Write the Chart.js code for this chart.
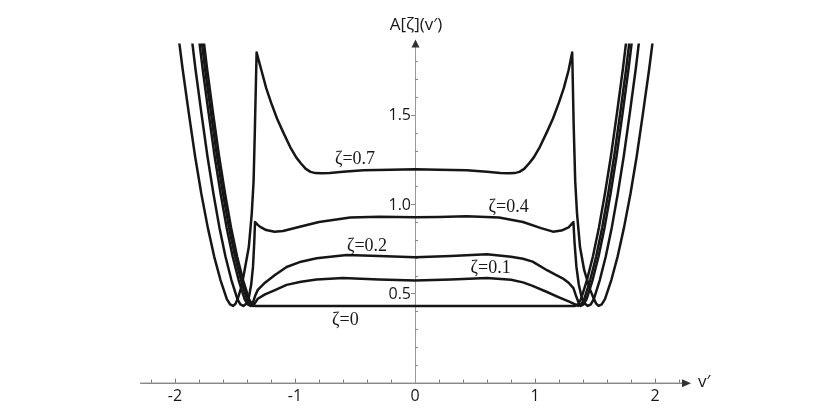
<!DOCTYPE html>
<html>
<head>
<meta charset="utf-8">
<script src="https://cdn.jsdelivr.net/npm/chart.js@4.4.0/dist/chart.umd.min.js"></script>
<style>
  html, body { margin: 0; padding: 0; background: #fff; }
  #wrap { width: 830px; height: 415px; }
</style>
</head>
<body>
<div id="wrap"><canvas id="plot" width="830" height="415"></canvas></div>
<script>
// curve names
const zetaNames = ['ζ=0', 'ζ=0.1', 'ζ=0.2', 'ζ=0.4', 'ζ=0.7'];

// values (v', A)
const z0X = [-1.783,-1.733,-1.683,-1.633,-1.583,-1.533,-1.483,-1.433,-1.383,-1.358,-1.333,
             1.333,1.358,1.383,1.433,1.483,1.533,1.583,1.633,1.683,1.733,1.783];
const z0Y = [2.04,1.76,1.51,1.27,1.06,0.87,0.708,0.575,0.468,0.439,0.43,
             0.43,0.439,0.468,0.575,0.708,0.87,1.06,1.27,1.51,1.76,2.04];

const z1X = [-1.80,-1.75,-1.70,-1.65,-1.60,-1.55,-1.50,-1.45,-1.40,-1.375,-1.35,
             -1.33,-1.31,-1.25,-1.167,-1.07,-0.95,-0.82,-0.6,-0.3,0,0.3,0.6,0.8,0.9,0.98,1.1,1.2,1.28,1.33,
             1.36,1.385,1.41,1.46,1.51,1.56,1.61,1.66,1.71,1.76,1.81];
const z1Y = [2.04,1.76,1.51,1.27,1.06,0.87,0.708,0.575,0.468,0.439,0.43,
             0.45,0.47,0.495,0.519,0.548,0.565,0.578,0.586,0.578,0.573,0.578,0.586,0.577,0.562,0.542,0.508,0.478,0.455,0.44,
             0.43,0.439,0.468,0.575,0.708,0.87,1.06,1.27,1.51,1.76,2.04];

const z2X = [-1.82,-1.77,-1.72,-1.67,-1.62,-1.57,-1.52,-1.47,-1.42,-1.395,-1.37,
             -1.35,-1.33,-1.31,-1.25,-1.167,-1.07,-0.95,-0.82,-0.57,-0.3,0,0.3,0.6,0.8,0.9,0.98,1.1,1.17,1.23,1.28,1.32,1.34,1.36,
             1.38,1.405,1.43,1.48,1.53,1.58,1.63,1.68,1.73,1.78,1.83];
const z2Y = [2.04,1.76,1.51,1.27,1.06,0.87,0.708,0.575,0.468,0.439,0.43,
             0.45,0.49,0.52,0.56,0.603,0.648,0.678,0.697,0.715,0.71,0.703,0.71,0.719,0.706,0.694,0.678,0.63,0.605,0.585,0.56,0.53,0.49,0.455,
             0.43,0.439,0.468,0.575,0.708,0.87,1.06,1.27,1.51,1.76,2.04];

const z4X = [-1.88,-1.83,-1.78,-1.73,-1.68,-1.63,-1.58,-1.53,-1.48,-1.455,-1.43,
             -1.405,-1.385,-1.365,-1.35,-1.34,-1.333,-1.31,-1.29,-1.24,-1.17,-1.1,-0.96,-0.8,-0.54,-0.3,0,0.2,0.43,0.7,0.9,1.05,1.15,1.22,1.28,1.32,
             1.33,1.345,1.365,1.39,1.415,
             1.44,1.465,1.49,1.54,1.59,1.64,1.69,1.74,1.79,1.84,1.89];
const z4Y = [2.04,1.76,1.51,1.27,1.06,0.87,0.708,0.575,0.468,0.439,0.43,
             0.443,0.475,0.55,0.65,0.78,0.90,0.884,0.873,0.855,0.846,0.85,0.874,0.9,0.925,0.93,0.927,0.928,0.932,0.925,0.9,0.866,0.846,0.852,0.87,0.90,
             0.78,0.65,0.55,0.475,0.443,
             0.43,0.439,0.468,0.575,0.708,0.87,1.06,1.27,1.51,1.76,2.04];

const z7X = [-1.99,-1.937,-1.885,-1.833,-1.781,-1.727,-1.674,-1.621,-1.568,-1.541,-1.515,
             -1.495,-1.475,-1.445,-1.42,-1.385,-1.36,-1.345,-1.335,-1.32,
             -1.3,-1.28,-1.24,-1.2,-1.15,-1.1,-1.04,-0.99,-0.95,-0.91,-0.87,-0.83,-0.78,-0.71,-0.6,-0.43,-0.2,0,
             0.2,0.43,0.6,0.71,0.78,0.83,0.87,0.91,0.95,0.99,1.04,1.1,1.15,1.2,1.24,1.28,1.295,1.31,
             1.322,1.335,1.35,1.375,1.41,1.435,1.46,1.49,1.51,
             1.53,1.556,1.583,1.636,1.689,1.742,1.796,1.848,1.9,1.952,2.005];
const z7Y = [2.04,1.76,1.51,1.27,1.06,0.87,0.708,0.575,0.468,0.439,0.43,
             0.443,0.475,0.54,0.63,0.76,0.95,1.13,1.40,1.85,
             1.80,1.75,1.65,1.57,1.48,1.405,1.32,1.262,1.228,1.198,1.181,1.174,1.173,1.175,1.181,1.19,1.193,1.195,
             1.193,1.19,1.181,1.175,1.173,1.174,1.181,1.198,1.228,1.262,1.32,1.405,1.48,1.57,1.65,1.75,1.80,1.85,
             1.45,1.13,0.95,0.76,0.63,0.575,0.52,0.47,0.443,
             0.43,0.439,0.468,0.575,0.708,0.87,1.06,1.27,1.51,1.76,2.04];

const seriesX = [z0X, z1X, z2X, z4X, z7X];
const seriesY = [z0Y, z1Y, z2Y, z4Y, z7Y];

// axis ticks
const xTicks = [-2, -1, 0, 1, 2];
const xTickLabels = ['-2', '-1', '0', '1', '2'];
const yTicks = [0.5, 1.0, 1.5];
const yTickLabels = ['0.5', '1.0', '1.5'];

// where the curve names sit (data coords, text centre / baseline)
const nameSpots = [[-0.58, 0.323], [0.63, 0.613], [-0.40, 0.74], [0.78, 0.958], [-0.50, 1.225]];

const datasets = seriesX.map((xs, i) => ({
  label: zetaNames[i],
  data: xs.map((x, j) => ({ x: x, y: seriesY[i][j] })),
  showLine: true,
  borderColor: '#161616',
  borderWidth: 2.5,
  borderJoinStyle: 'round',
  pointRadius: 0,
  tension: 0,
  fill: false
}));

const axesPlugin = {
  id: 'mathAxes',
  beforeDatasetsDraw(chart) {
    const ctx = chart.ctx;
    const sx = chart.scales.x, sy = chart.scales.y;
    const ox = sx.getPixelForValue(0), oy = sy.getPixelForValue(0);
    ctx.save();
    // x axis
    ctx.strokeStyle = '#555';
    ctx.fillStyle = '#333';
    ctx.lineWidth = 1;
    const xl = sx.getPixelForValue(-2.29), xr = sx.getPixelForValue(2.3);
    ctx.beginPath();
    ctx.moveTo(xl, oy + 0.5); ctx.lineTo(xr - 6, oy + 0.5); ctx.stroke();
    ctx.beginPath();
    ctx.moveTo(xr, oy + 0.5); ctx.lineTo(xr - 9, oy - 3.5); ctx.lineTo(xr - 9, oy + 4.5); ctx.closePath(); ctx.fill();
    ctx.strokeStyle = '#777';
    for (let v = -22; v <= 22; v += 2) {
      const p = Math.round(sx.getPixelForValue(v / 10)) + 0.5;
      const len = (v % 10 === 0) ? 4 : 3;
      ctx.beginPath(); ctx.moveTo(p, oy); ctx.lineTo(p, oy - len); ctx.stroke();
    }
    // y axis
    ctx.strokeStyle = '#999';
    const yt = sy.getPixelForValue(1.9) - 4;
    ctx.beginPath();
    ctx.moveTo(ox + 0.5, oy); ctx.lineTo(ox + 0.5, yt + 5); ctx.stroke();
    ctx.fillStyle = '#333';
    ctx.beginPath();
    ctx.moveTo(ox + 0.5, yt); ctx.lineTo(ox - 3.5, yt + 8); ctx.lineTo(ox + 4.5, yt + 8); ctx.closePath(); ctx.fill();
    ctx.strokeStyle = '#888';
    for (let v = 1; v <= 18; v++) {
      const p = Math.round(sy.getPixelForValue(v / 10)) + 0.5;
      ctx.beginPath();
      if (v % 5 === 0) { ctx.moveTo(ox - 4, p); ctx.lineTo(ox, p); }
      else { ctx.moveTo(ox, p); ctx.lineTo(ox + 3, p); }
      ctx.stroke();
    }
    ctx.restore();
  },
  afterDatasetsDraw(chart) {
    const ctx = chart.ctx;
    const sx = chart.scales.x, sy = chart.scales.y;
    const ox = sx.getPixelForValue(0), oy = sy.getPixelForValue(0);
    ctx.save();
    ctx.fillStyle = '#1a1718';
    ctx.font = '16px "Open Sans"';
    ctx.textAlign = 'center';
    ctx.textBaseline = 'alphabetic';
    xTicks.forEach((v, i) => ctx.fillText(xTickLabels[i], sx.getPixelForValue(v), oy + 18));
    ctx.textAlign = 'right';
    ctx.textBaseline = 'middle';
    yTicks.forEach((v, i) => ctx.fillText(yTickLabels[i], ox - 4, sy.getPixelForValue(v) + 1));
    // axis names
    ctx.font = '17px "Open Sans"';
    ctx.textAlign = 'center';
    ctx.textBaseline = 'alphabetic';
    ctx.fillText('A[ζ](v′)', ox + 1, 30);
    ctx.textAlign = 'left';
    ctx.textBaseline = 'middle';
    ctx.fillText('v′', sx.getPixelForValue(2.3) + 7, oy - 1);
    // curve names
    ctx.font = '18px "Liberation Serif"';
    ctx.textAlign = 'center';
    ctx.textBaseline = 'alphabetic';
    nameSpots.forEach((s, i) => ctx.fillText(zetaNames[i], sx.getPixelForValue(s[0]), sy.getPixelForValue(s[1])));
    ctx.restore();
  }
};

new Chart(document.getElementById('plot'), {
  type: 'scatter',
  data: { datasets: datasets },
  options: {
    responsive: false,
    devicePixelRatio: 1,
    animation: false,
    layout: { padding: { left: 139, right: 139, top: 43.5, bottom: 32.3 } },
    plugins: { legend: { display: false }, tooltip: { enabled: false } },
    scales: {
      x: { type: 'linear', min: -2.3, max: 2.3, display: false },
      y: { type: 'linear', min: 0, max: 1.9, display: false }
    }
  },
  plugins: [axesPlugin]
});
</script>
</body>
</html>
